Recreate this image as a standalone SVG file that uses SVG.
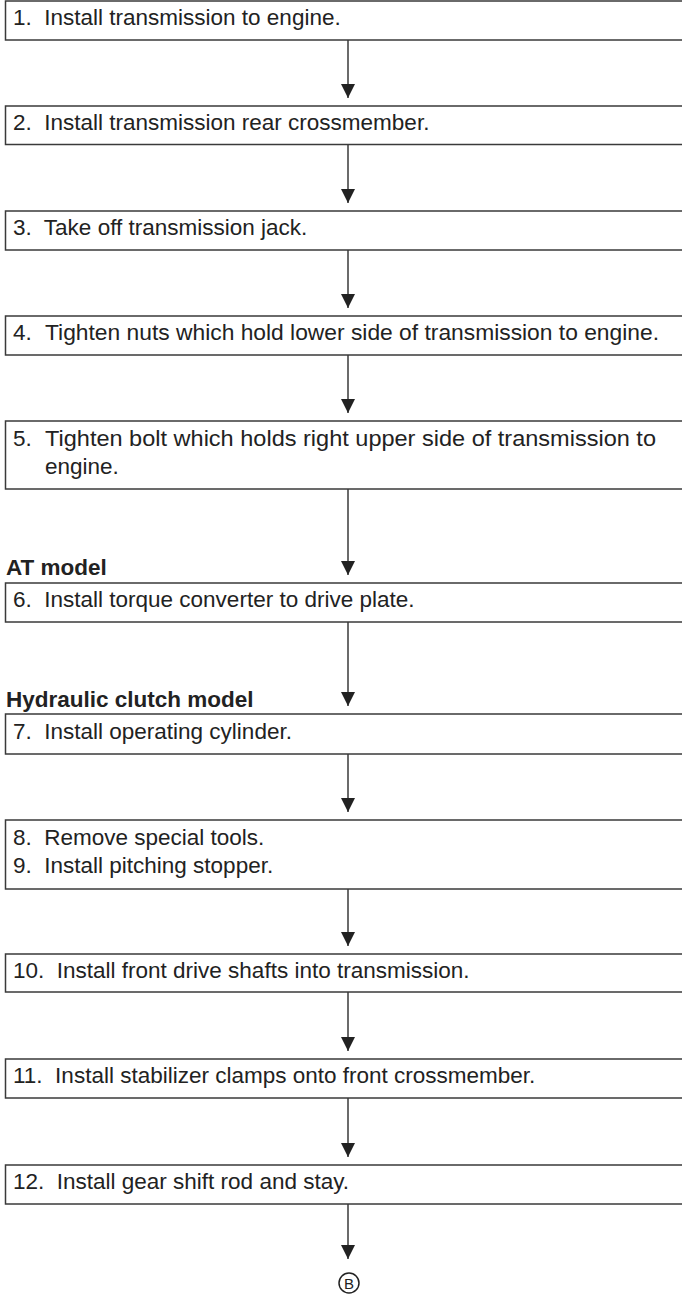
<svg xmlns="http://www.w3.org/2000/svg" width="682" height="1295" viewBox="0 0 682 1295" xml:space="preserve">
<defs>
<style>
.box{fill:#fff;stroke:#3a3a3a;stroke-width:1.5}
.t{font-family:"Liberation Sans",Arial,sans-serif;font-size:22.5px;fill:#222;white-space:pre}
.lbl{font-family:"Liberation Sans",Arial,sans-serif;font-size:22.5px;font-weight:bold;fill:#222}
.ln{stroke:#3a3a3a;stroke-width:1.5;fill:none;marker-end:url(#ah)}
.cb{fill:none;stroke:#222;stroke-width:1.5}
.cbt{font-family:"Liberation Sans",Arial,sans-serif;font-size:15px;fill:#222}
</style>
<marker id="ah" markerUnits="userSpaceOnUse" markerWidth="14" markerHeight="14" refX="14" refY="7" orient="auto" viewBox="0 0 14 14">
<path d="M0,0 L14,7 L0,14 Z" fill="#222"/>
</marker>
</defs>
<rect width="682" height="1295" fill="#fff"/>
<g id="connectors">
<line class="ln" x1="348" y1="40" x2="348" y2="98"/>
<line class="ln" x1="348" y1="144.5" x2="348" y2="203"/>
<line class="ln" x1="348" y1="250" x2="348" y2="308"/>
<line class="ln" x1="348" y1="355" x2="348" y2="413"/>
<line class="ln" x1="348" y1="489" x2="348" y2="575"/>
<line class="ln" x1="348" y1="622" x2="348" y2="706"/>
<line class="ln" x1="348" y1="754" x2="348" y2="812"/>
<line class="ln" x1="348" y1="889" x2="348" y2="946"/>
<line class="ln" x1="348" y1="992" x2="348" y2="1051"/>
<line class="ln" x1="348" y1="1098" x2="348" y2="1157"/>
<line class="ln" x1="348" y1="1204" x2="348" y2="1259"/>
</g>
<g id="step1"><rect class="box" x="5.5" y="1" width="700" height="39"/><text class="t" x="13" y="25">1.  Install transmission to engine.</text></g>
<g id="step2"><rect class="box" x="5.5" y="106" width="700" height="38.5"/><text class="t" x="13" y="130">2.  Install transmission rear crossmember.</text></g>
<g id="step3"><rect class="box" x="5.5" y="211" width="700" height="39"/><text class="t" x="13" y="235">3.  Take off transmission jack.</text></g>
<g id="step4"><rect class="box" x="5.5" y="316" width="700" height="39"/><text class="t" x="13" y="340">4.</text><text class="t" x="45" y="340" textLength="614" lengthAdjust="spacingAndGlyphs">Tighten nuts which hold lower side of transmission to engine.</text></g>
<g id="step5"><rect class="box" x="5.5" y="421" width="700" height="68"/><text class="t" x="13" y="446">5.</text><text class="t" x="45" y="446" textLength="611" lengthAdjust="spacingAndGlyphs">Tighten bolt which holds right upper side of transmission to</text><text class="t" x="45" y="474">engine.</text></g>
<g id="label-at"><text class="lbl" x="6" y="575">AT model</text></g>
<g id="step6"><rect class="box" x="5.5" y="583" width="700" height="39"/><text class="t" x="13" y="607">6.  Install torque converter to drive plate.</text></g>
<g id="label-hyd"><text class="lbl" x="6" y="707">Hydraulic clutch model</text></g>
<g id="step7"><rect class="box" x="5.5" y="714" width="700" height="40"/><text class="t" x="13" y="739">7.  Install operating cylinder.</text></g>
<g id="step8-9"><rect class="box" x="5.5" y="820" width="700" height="69"/><text class="t" x="13" y="845">8.  Remove special tools.</text><text class="t" x="13" y="873">9.  Install pitching stopper.</text></g>
<g id="step10"><rect class="box" x="5.5" y="954" width="700" height="38"/><text class="t" x="13" y="978">10.  Install front drive shafts into transmission.</text></g>
<g id="step11"><rect class="box" x="5.5" y="1059" width="700" height="39"/><text class="t" x="13" y="1083">11.  Install stabilizer clamps onto front crossmember.</text></g>
<g id="step12"><rect class="box" x="5.5" y="1165" width="700" height="39"/><text class="t" x="13" y="1189">12.  Install gear shift rod and stay.</text></g>
<g id="connector-b"><circle class="cb" cx="349" cy="1283" r="10"/><text class="cbt" x="349" y="1288.5" text-anchor="middle">B</text></g>
</svg>
